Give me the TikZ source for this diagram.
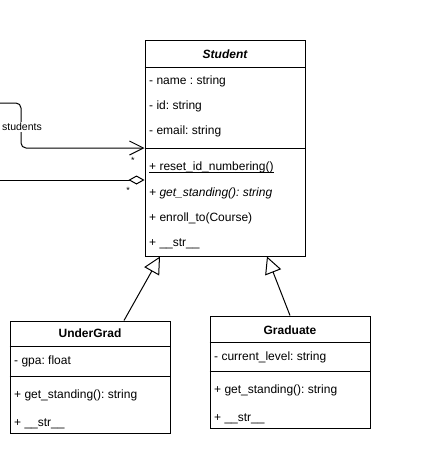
\documentclass[tikz,border=0pt]{standalone}
\usepackage{fontspec}
\setmainfont{Liberation Sans}
\usetikzlibrary{arrows.meta}

\tikzset{
  classbox/.style={draw, line width=1pt, minimum width=160pt, inner sep=0pt},
  member/.style={anchor=west, inner sep=0pt, text height=8.6pt, text depth=2.6pt},
  title/.style={font=\bfseries, inner sep=0pt},
  uml/.style={line width=1pt},
}

\begin{document}
\frenchspacing
\fontsize{12}{14}\selectfont
\begin{tikzpicture}[x=1pt,y=-1pt]
\useasboundingbox (0,0) rectangle (421,461);

% class boxes
\node [classbox, minimum height=216pt] (student) at (225,148) {};
\node [classbox, minimum height=112pt] (undergrad) at (90,377) {};
\node [classbox, minimum height=112pt] (graduate) at (290,372) {};

% titles
\node [title, font=\bfseries\itshape] (studentTitle) at (225,54) {Student};
\node [title] (undergradTitle) at (90,333) {UnderGrad};
\node [title] (graduateTitle) at (290,330) {Graduate};

% compartments
\foreach \cls/\y in {student/67, student/148, undergrad/346.5, undergrad/376.5, graduate/342.5, graduate/371.5} {
  \draw [uml] (\cls.west |- 0,\y) -- (\cls.east |- 0,\y);
}

% members
\foreach \y/\t [count=\i] in {81/- name : string, 106.5/- id: string, 131.5/- email: string,
    167/+ reset\_id\_numbering(), 193/\textit{+ get\_standing(): string},
    218.5/+ enroll\_to(Course), 243.5/+ \_\_str\_\_} {
  \node [member] (st\i) at (149,\y) {\t};
}
\draw [line width=0.8pt] ([yshift=-2.6pt]st4.base west) -- ([yshift=-2.6pt]st4.base east);
\foreach \y/\t [count=\i] in {361.5/- gpa: float, 395.5/+ get\_standing(): string, 423.5/+ \_\_str\_\_} {
  \node [member] (ug\i) at (14,\y) {\t};
}
\foreach \y/\t [count=\i] in {357.5/- current\_level: string, 390/+ get\_standing(): string, 418.5/+ \_\_str\_\_} {
  \node [member] (gr\i) at (214,\y) {\t};
}

% association and aggregation
\coordinate (assocFrom) at (0,103);
\coordinate (aggFrom) at (0,180);
\draw [uml, rounded corners=5pt, -{Straight Barb[length=14pt,width=14pt,line width=1pt]}]
  (assocFrom) -- (21,103) -- (21,148) -- (student.west |- 0,148);
\node [fill=white, inner sep=1pt, font=\fontsize{10.5}{12}\selectfont] (assocLabel) at (22,127) {students};
\draw [uml, -{Diamond[open,fill=white,length=16pt,width=9pt,line width=1pt]}]
  (aggFrom) -- (student.west |- 0,180);
\node [font=\fontsize{9}{10}\selectfont, inner sep=0pt] (assocMult) at (133,160) {*};
\node [font=\fontsize{9}{10}\selectfont, inner sep=0pt] (aggMult) at (128,190) {*};

% generalization
\draw [uml, -{Triangle[open,fill=white,length=17pt,width=17pt,line width=1pt]}]
  (undergrad.north -| 124,0) -- (student.south -| 160,0);
\draw [uml, -{Triangle[open,fill=white,length=17pt,width=17pt,line width=1pt]}]
  (graduate.north -| 290,0) -- (student.south -| 267,0);
\end{tikzpicture}
\end{document}
